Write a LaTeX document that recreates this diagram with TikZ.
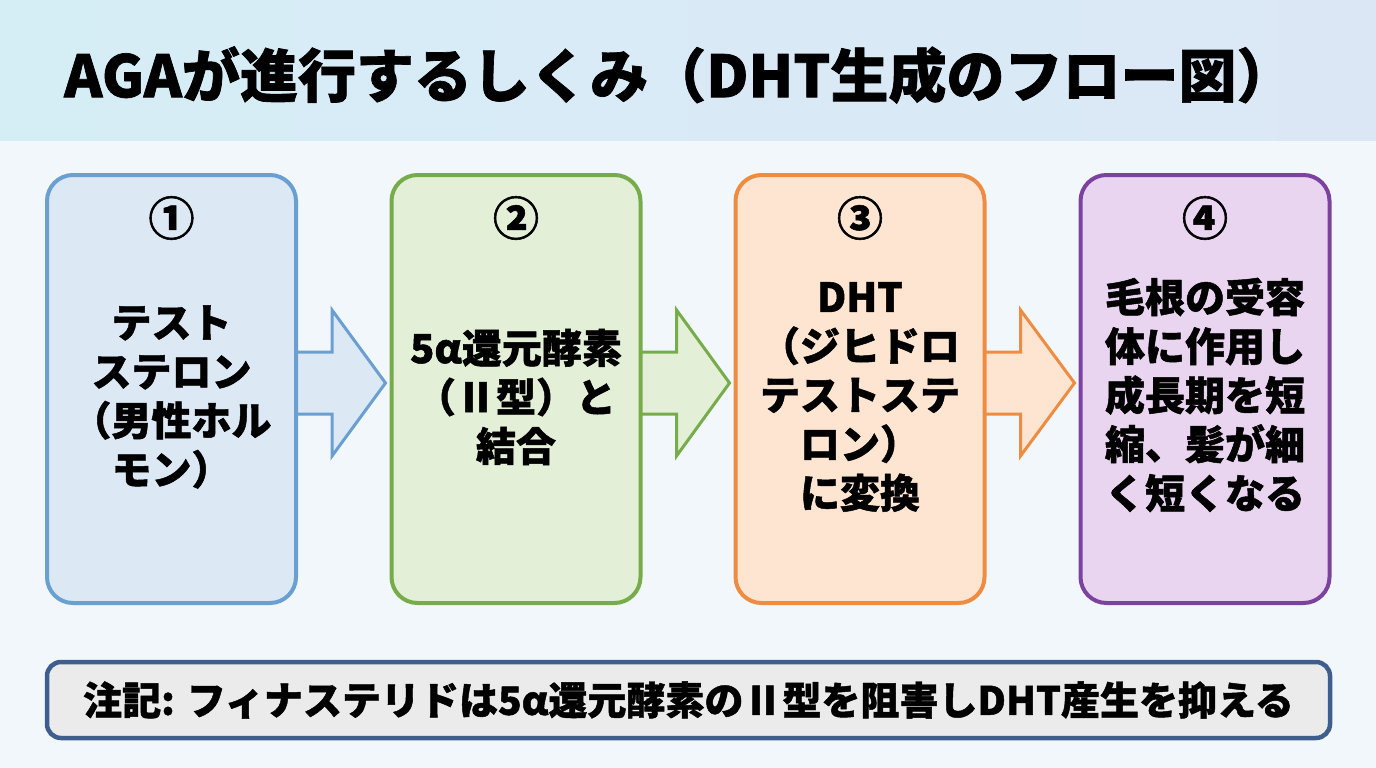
\documentclass[tikz,border=0pt]{standalone}
\usepackage{fontspec}
\setmainfont{Noto Sans CJK JP}[BoldFeatures={FakeBold=1.2}]
\usetikzlibrary{calc}
\definecolor{bgc}{HTML}{F2F7FB}
\definecolor{tl}{HTML}{D5EEF6}
\definecolor{tr}{HTML}{DCE7F6}
\definecolor{cA}{HTML}{6A9FD2}
\definecolor{fA}{HTML}{DCE8F4}
\definecolor{cB}{HTML}{76AD4A}
\definecolor{fB}{HTML}{E3EFD6}
\definecolor{cC}{HTML}{EE8C42}
\definecolor{fC}{HTML}{FDE5D2}
\definecolor{cD}{HTML}{7B42A0}
\definecolor{fD}{HTML}{EAD5F1}
\definecolor{cN}{HTML}{3E5F8E}
\definecolor{fN}{HTML}{EBEBEB}
\tikzset{
  stepbox/.style={rectangle, rounded corners=26pt, line width=4pt, minimum width=249pt, minimum height=428pt, inner sep=0pt},
  numlabel/.style={font=\fontsize{46}{48}\selectfont\bfseries, inner sep=0pt},
  boxtext/.style={font=\fontsize{40}{49}\selectfont\bfseries, align=center, inner sep=0pt},
  blockarrow/.style={line width=3pt, line join=miter},
  titletext/.style={font=\fontsize{58}{60}\selectfont\bfseries, inner sep=0pt},
  notebox/.style={rectangle, rounded corners=14pt, line width=4.5pt, draw=cN, fill=fN, minimum width=1283pt, minimum height=76pt, inner sep=0pt},
  notetext/.style={font=\fontsize{39}{41}\selectfont\bfseries, inner sep=0pt}
}
\begin{document}
\begin{tikzpicture}[x=1pt,y=-1pt]
\useasboundingbox (0,0) rectangle (1376,768);
\fill[bgc] (0,0) rectangle (1376,768);
\shade[left color=tl, right color=tr] (0,0) rectangle (1376,140);
\node[titletext, anchor=west] (title) at (64,75) {AGAが進行するしくみ（DHT生成のフロー図）};

% box placeholders for arrows
\path (171.5,389) coordinate (p1) (516,389) coordinate (p2) (860,389) coordinate (p3) (1205,389) coordinate (p4);
\node[stepbox] (b1) at (p1) {};
\node[stepbox] (b2) at (p2) {};
\node[stepbox] (b3) at (p3) {};
\node[stepbox] (b4) at (p4) {};

% arrows
\foreach \s/\e/\c/\f in {b1/b2/cA/fA, b2/b3/cB/fB, b3/b4/cC/fC}{
  \draw[blockarrow, draw=\c, fill=\f]
    ($(\s.east)+(-4,-37)$) -- ($(\s.east)+(34,-37)$) -- ($(\s.east)+(34,-79)$)
    -- ($(\e.west)+(-4,-6)$)
    -- ($(\s.east)+(34,67)$) -- ($(\s.east)+(34,25)$) -- ($(\s.east)+(-4,25)$) -- cycle;
}

\node[stepbox, draw=cA, fill=fA] at (p1) {};
\node[stepbox, draw=cB, fill=fB] at (p2) {};
\node[stepbox, draw=cC, fill=fC] at (p3) {};
\node[stepbox, draw=cD, fill=fD] at (p4) {};

\node[numlabel] (n1) at (171.5,218) {①};
\node[numlabel] (n2) at (516,218) {②};
\node[numlabel] (n3) at (860,218) {③};
\node[numlabel] (n4) at (1205,218) {④};

\node[boxtext] (t1) at (171.5,397) {テスト\\ステロン\\（男性ホル\\モン）};
\node[boxtext] (t2) at (516,397) {5α還元酵素\\（Ⅱ型）と\\結合};
\node[boxtext] (t3) at (860,397) {DHT\\（ジヒドロ\\テストステ\\ロン）\\に変換};
\node[boxtext] (t4) at (1205,395) {毛根の受容\\体に作用し\\成長期を短\\縮、髪が細\\く短くなる};

\node[notebox] (note) at (688.5,700) {};
\node[notetext] (nt) at (688.5,700) {注記: フィナステリドは5α還元酵素のⅡ型を阻害しDHT産生を抑える};
\end{tikzpicture}
\end{document}
